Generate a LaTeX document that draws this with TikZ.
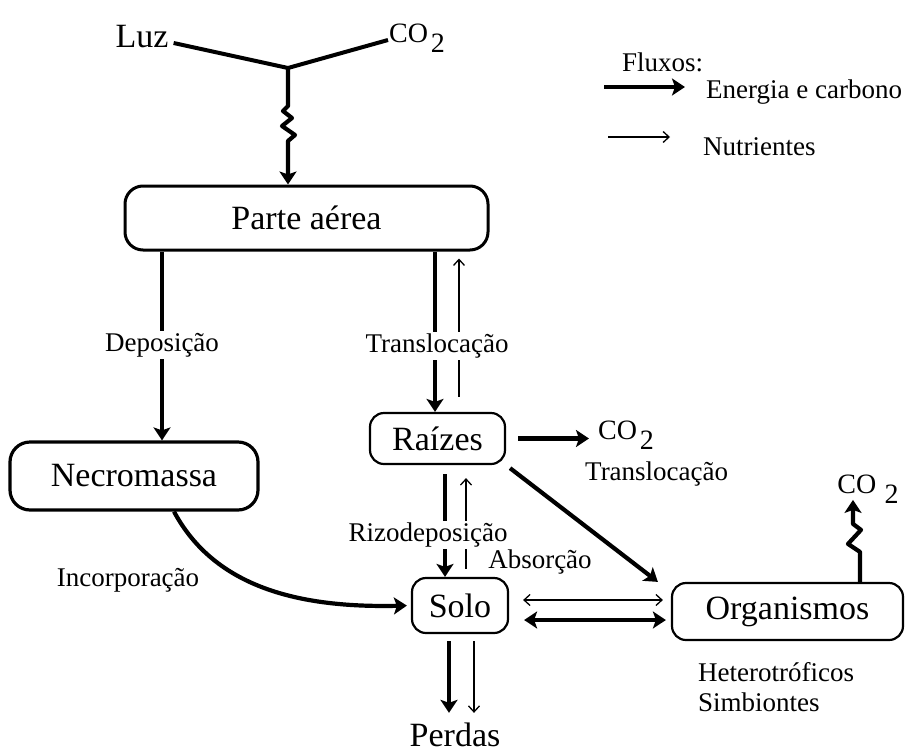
\documentclass[tikz,border=0pt]{standalone}
\usepackage{fontspec}
\setmainfont{Liberation Serif}
\usetikzlibrary{arrows.meta}
\newcommand{\cotwo}[1][0.1em]{CO\hspace{#1}\raisebox{-0.35em}{2}}
\tikzset{
  caixa/.style={draw, line width=2.2pt, rounded corners=14pt, inner sep=0pt, font=\fontsize{34}{40}\selectfont},
  grossa/.style={line width=4.2pt, -{Stealth[length=13pt,width=17pt,inset=3pt]}},
  grossadupla/.style={line width=4.2pt, {Stealth[length=13pt,width=17pt,inset=3pt]}-{Stealth[length=13pt,width=17pt,inset=3pt]}},
  fina/.style={line width=1.3pt, -{Straight Barb[length=6pt,width=11pt]}},
  finadupla/.style={line width=1.3pt, {Straight Barb[length=6pt,width=11pt]}-{Straight Barb[length=6pt,width=11pt]}},
  rotulo/.style={inner sep=2pt, font=\fontsize{27}{30}\selectfont},
  grande/.style={inner sep=0pt, font=\fontsize{34}{40}\selectfont},
  co2/.style={inner sep=0pt, font=\fontsize{28}{32}\selectfont}
}
\begin{document}
\begin{tikzpicture}[x=1pt,y=-1pt]
  \useasboundingbox (0,0) rectangle (908,753);

  % caixas
  \node[caixa, line width=3pt, rounded corners=18pt, minimum width=363pt, minimum height=64pt] (parte) at (306.5,218) {Parte aérea};
  \node[caixa, line width=3.2pt, rounded corners=20pt, minimum width=248pt, minimum height=68pt] (necro) at (134,476) {Necromassa};
  \node[caixa, minimum width=135pt, minimum height=51pt] (raizes) at (437.5,438.5) {Raízes};
  \node[caixa, minimum width=96pt, minimum height=55pt] (solo) at (460,605.5) {Solo};
  \node[caixa, minimum width=231pt, minimum height=57pt] (org) at (787.5,611.5) {Organismos};

  % entrada: luz e CO2
  \node[grande] (luz) at (142,37) {Luz};
  \node[co2, anchor=west] (co2a) at (389,38) {\cotwo};
  \coordinate (j) at (288,68);
  \draw[line width=4pt, line join=round] ([xshift=5pt,yshift=-6pt]luz.east) -- (j) -- ([xshift=-1pt,yshift=-2pt]co2a.west);
  \draw[grossa, line join=round] (j) -- ++(0,38) -- ++(-5,5) -- ++(9,7) -- ++(-10,8) -- ++(13,9) -- ++(-7,6) -- (j |- parte.north);

  % deposicao
  \node[rotulo] (dep) at (162,345) {Deposição};
  \draw[line width=4.2pt] (parte.south -| dep) -- (dep.north);
  \draw[grossa] (dep.south) -- (necro.north -| dep);

  % translocacao parte aerea - raizes
  \node[rotulo] (trans) at (437,346) {Translocação};
  \coordinate (t1) at ([xshift=-2pt]trans.north);
  \coordinate (t2) at ([xshift=22pt]trans.north);
  \draw[line width=4.2pt] (t1 |- parte.south) -- (t1);
  \draw[grossa] (t1 |- trans.south) -- (t1 |- raizes.north);
  \draw[line width=1.3pt] ([yshift=15pt]t2 |- raizes.north) -- (t2 |- trans.south);
  \draw[fina, shorten >=7pt] (t2) -- (t2 |- parte.south);

  % raizes
  \node[co2, anchor=west] (co2b) at (598,435) {\cotwo};
  \draw[grossa, shorten >=9pt] ([xshift=12pt]raizes.east) -- (co2b.west |- raizes.east);
  \node[rotulo, anchor=west] (trans2) at (583,474) {Translocação};
  \draw[grossa, shorten <=5pt] (raizes.south east) -- ([xshift=-13pt]org.north west);

  % rizodeposicao e absorcao
  \node[rotulo] (rizo) at (428,535) {Rizodeposição};
  \coordinate (r1) at ([xshift=17pt]rizo.north);
  \coordinate (r2) at ([xshift=38pt]rizo.north);
  \draw[line width=4.2pt] ([yshift=-9pt]r1 |- raizes.south) -- (r1);
  \draw[grossa] (r1 |- rizo.south) -- (r1 |- solo.north);
  \draw[line width=1.3pt] ([yshift=8pt]r2 |- solo.north) -- (r2 |- rizo.south);
  \draw[fina, shorten >=13pt] (r2) -- (r2 |- raizes.south);
  \node[rotulo] (abs) at (540,562) {Absorção};

  % solo - organismos
  \coordinate (s1) at ([xshift=14pt,yshift=5.5pt]solo.east);
  \coordinate (s2) at ([xshift=15pt,yshift=-14.5pt]solo.east);
  \draw[finadupla, shorten >=8pt] (s1) -- (s1 -| org.west);
  \draw[grossadupla, shorten >=5pt] (s2) -- (s2 -| org.west);

  % incorporacao
  \node[rotulo] (inc) at (128,580) {Incorporação};
  \draw[grossa, shorten >=4pt] ([xshift=40pt]necro.south) .. controls (215,588) and (300,608) .. (solo.west);

  % perdas
  \node[grande] (perdas) at (455,735) {Perdas};
  \coordinate (p1) at ([xshift=-11pt,yshift=-7pt]solo.south);
  \coordinate (p2) at ([xshift=14pt,yshift=-7pt]solo.south);
  \draw[grossa, shorten >=10pt] (p1) -- (p1 |- perdas.north);
  \draw[fina, shorten >=10pt] (p2) -- (p2 |- perdas.north);

  % organismos
  \node[co2] (co2c) at (868,489) {\cotwo[0.3em]};
  \coordinate (o1) at ([xshift=72.5pt]org.north);
  \draw[grossa, line join=round] (o1) -- ++(0,-30) -- ++(-12,-8) -- ++(13,-14) -- ++(-8,-6) -- ++(0,-24);
  \node[rotulo, anchor=north west, align=left] (het) at (696,660) {Heterotróficos\\Simbiontes};

  % legenda
  \node[rotulo, anchor=west] (fluxos) at (620,62) {Fluxos:};
  \node[rotulo, anchor=west] (energ) at (704,92) {Energia e carbono};
  \node[rotulo, anchor=west] (nutr) at (701,147) {Nutrientes};
  \coordinate (l1) at (604,87);
  \coordinate (l2) at (608,137);
  \draw[grossa, shorten >=19pt] (l1) -- (l1 -| energ.west);
  \draw[fina, shorten >=31pt] (l2) -- (l2 -| nutr.west);
\end{tikzpicture}
\end{document}
